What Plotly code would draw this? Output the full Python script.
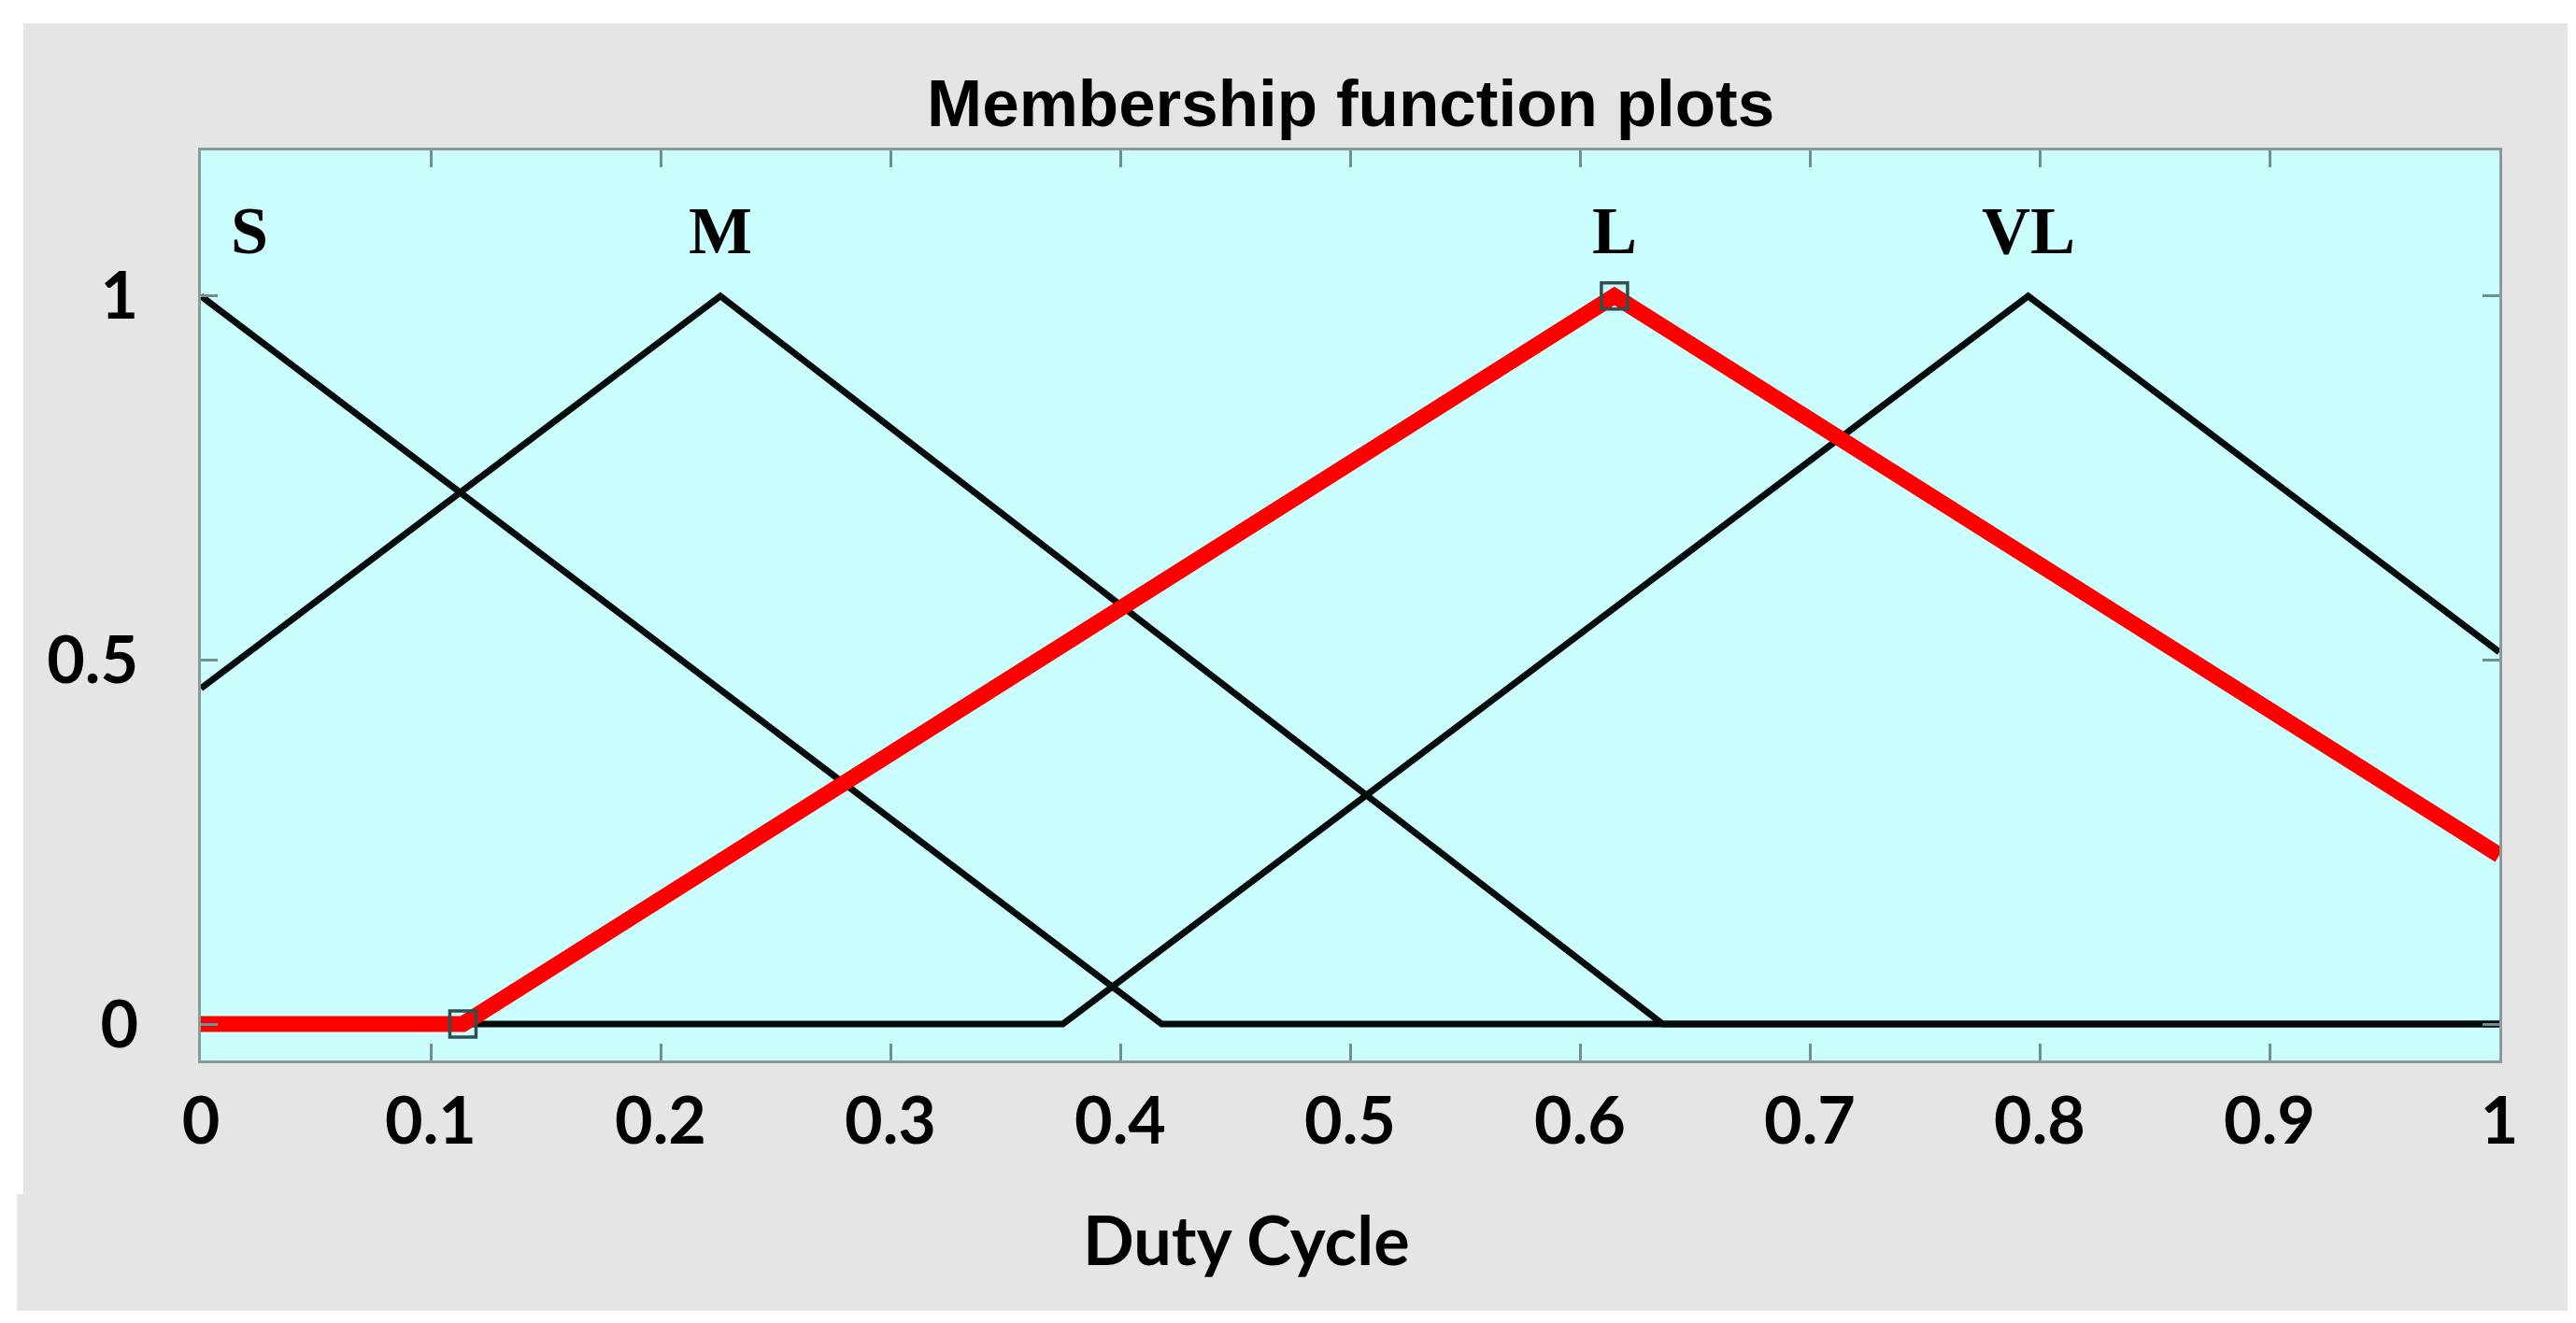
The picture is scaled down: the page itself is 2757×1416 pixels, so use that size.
import plotly.graph_objects as go

# ---- data ----
mf_names = ["S", "M", "L", "VL"]
s_x = [0.0, 0.418, 1.0]
s_y = [1.0, 0.0, 0.0]
m_x = [0.0, 0.226, 0.636, 1.0]
m_y = [0.461, 1.0, 0.0, 0.0]
l_x = [0.0, 0.114, 0.615, 1.0]
l_y = [0.0, 0.0, 1.0, 0.232]
vl_x = [0.0, 0.375, 0.795, 1.0]
vl_y = [0.0, 0.0, 1.0, 0.511]

x_ticks = [0, 0.1, 0.2, 0.3, 0.4, 0.5, 0.6, 0.7, 0.8, 0.9, 1]
x_ticklabels = ["0", "0.1", "0.2", "0.3", "0.4", "0.5", "0.6", "0.7", "0.8", "0.9", "1"]
y_ticks = [0, 0.5, 1]
y_ticklabels = ["0", "0.5", "1"]

W, H = 2757, 1416
ML, MR, MT, MB = 207, 90, 153, 289
PW, PH = W - ML - MR, H - MT - MB


def px_to_paper_x(px):
    return (px - ML) / PW


def px_to_paper_y(py):
    return (H - MB - py) / PH


fig = go.Figure()

black = "#050a0a"
for xs, ys in [(s_x, s_y), (m_x, m_y), (vl_x, vl_y)]:
    fig.add_trace(go.Scatter(x=xs, y=ys, mode="lines",
                             line=dict(color=black, width=7),
                             showlegend=False, hoverinfo="skip"))

fig.add_trace(go.Scatter(x=l_x, y=l_y, mode="lines",
                         line=dict(color="#FF0000", width=17),
                         showlegend=False, hoverinfo="skip"))
# vertex handles of the selected membership function
fig.add_trace(go.Scatter(x=l_x[1:3], y=l_y[1:3], mode="markers",
                         marker=dict(symbol="square-open", size=28,
                                     color="#2E5050", line=dict(width=3.5)),
                         showlegend=False, hoverinfo="skip"))

# membership function labels at their peaks
all_x = [s_x, m_x, l_x, vl_x]
all_y = [s_y, m_y, l_y, vl_y]
for name, xs, ys in zip(mf_names, all_x, all_y):
    peak = xs[ys.index(max(ys))]
    fig.add_annotation(x=max(peak, 0.021), y=1.09, xref="x", yref="y",
                       text=name, showarrow=False, xanchor="center",
                       yanchor="middle",
                       font=dict(family="Liberation Serif", size=72,
                                 color="black", weight="bold"))

# background panels
gray = "#E6E5E6"
fig.add_shape(type="rect", xref="paper", yref="paper", layer="below",
              x0=px_to_paper_x(17), x1=px_to_paper_x(2740),
              y0=px_to_paper_y(1395), y1=px_to_paper_y(17),
              fillcolor=gray, line=dict(width=0))
fig.add_shape(type="rect", xref="paper", yref="paper", layer="below",
              x0=px_to_paper_x(10), x1=px_to_paper_x(18),
              y0=px_to_paper_y(1395), y1=px_to_paper_y(1270),
              fillcolor=gray, line=dict(width=0))
fig.add_shape(type="rect", xref="paper", yref="paper", layer="below",
              x0=0, x1=1, y0=0, y1=1,
              fillcolor="#CBFEFE", line=dict(width=0))

# title and x-axis title
fig.add_annotation(x=0.5, y=px_to_paper_y(103), xref="paper", yref="paper",
                   text="Membership function plots", showarrow=False,
                   xanchor="center", yanchor="middle",
                   font=dict(family="Liberation Sans", size=71, color="black",
                             weight="bold"))
fig.add_annotation(x=0.455, y=px_to_paper_y(1318), xref="x", yref="paper",
                   text="Duty Cycle", showarrow=False,
                   xanchor="center", yanchor="middle",
                   font=dict(family="Lato", size=72, color="black",
                             weight="bold"))

tick_font = dict(family="Lato", size=70, color="black", weight="bold")
fig.update_xaxes(range=[0, 1], tickvals=x_ticks, ticktext=x_ticklabels,
                 ticks="inside", ticklen=18, tickwidth=3, tickcolor="#6F8F8F",
                 showline=True, linewidth=3, linecolor="#8A9A9A",
                 mirror="allticks", showgrid=False, zeroline=False,
                 tickfont=tick_font, ticklabelstandoff=2, fixedrange=True)
fig.update_yaxes(range=[-0.05, 1.2], tickvals=y_ticks, ticktext=y_ticklabels,
                 ticks="inside", ticklen=18, tickwidth=3, tickcolor="#6F8F8F",
                 showline=True, linewidth=3, linecolor="#8A9A9A",
                 mirror="allticks", showgrid=False, zeroline=False,
                 tickfont=tick_font, ticklabelstandoff=50, fixedrange=True)

fig.update_layout(width=W, height=H, autosize=False,
                  margin=dict(l=ML, r=MR, t=MT, b=MB, pad=0),
                  paper_bgcolor="white", plot_bgcolor="rgba(0,0,0,0)",
                  showlegend=False)

fig.write_html("out.html", config={"displayModeBar": False})
